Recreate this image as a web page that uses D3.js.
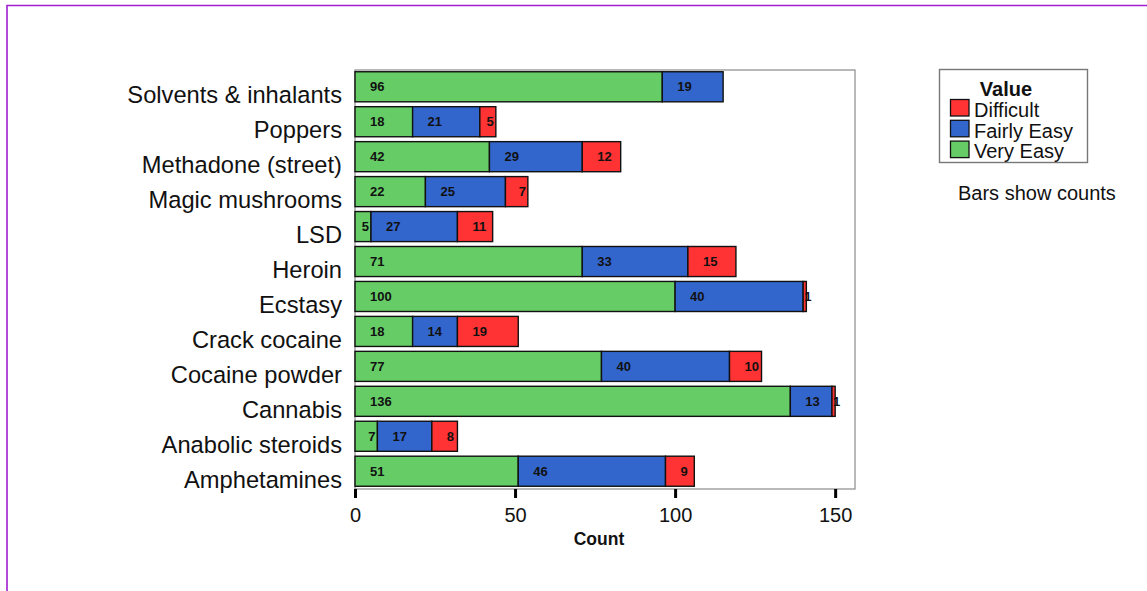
<!DOCTYPE html>
<html>
<head>
<meta charset="utf-8">
<script src="https://cdn.jsdelivr.net/npm/d3@7/dist/d3.min.js"></script>
<style>
  html, body { margin: 0; padding: 0; background: #fff; }
  svg { display: block; font-family: "Liberation Sans", Arial, Helvetica, sans-serif; }
</style>
</head>
<body>
<svg id="chart" width="1147" height="591"></svg>
<script>
// Ease of obtaining each drug: counts of responses by rating
const categories = [
  "Solvents & inhalants", "Poppers", "Methadone (street)", "Magic mushrooms",
  "LSD", "Heroin", "Ecstasy", "Crack cocaine", "Cocaine powder",
  "Cannabis", "Anabolic steroids", "Amphetamines"
];
const veryEasy   = [96, 18, 42, 22, 5, 71, 100, 18, 77, 136, 7, 51];
const fairlyEasy = [19, 21, 29, 25, 27, 33, 40, 14, 40, 13, 17, 46];
const difficult  = [0, 5, 12, 7, 11, 15, 1, 19, 10, 1, 8, 9];

const seriesNames = ["Very Easy", "Fairly Easy", "Difficult"];
const seriesValues = [veryEasy, fairlyEasy, difficult];
const seriesColors = ["#66cc66", "#3366cc", "#ff3333"];
const legendOrder = ["Difficult", "Fairly Easy", "Very Easy"];
const xTicks = [0, 50, 100, 150];

const svg = d3.select("#chart");

// page frame
svg.append("path")
  .attr("d", "M7,591 L7,5.5 L1147,5.5")
  .attr("fill", "none")
  .attr("stroke", "#a01fd0")
  .attr("stroke-width", 1.6);

const plot = { left: 355, right: 855, top: 70, bottom: 489 };

const x = d3.scaleLinear().domain([0, 156.2]).range([plot.left, plot.right]);
const y = d3.scaleBand().domain(categories).range([plot.top, plot.bottom - 1])
  .paddingInner(0.14).paddingOuter(0.05);

// plot frame
svg.append("rect")
  .attr("x", plot.left).attr("y", plot.top)
  .attr("width", plot.right - plot.left).attr("height", plot.bottom - plot.top)
  .attr("fill", "#fff").attr("stroke", "#8a8a8a").attr("stroke-width", 1.2);

// stacked rows
const rows = categories.map((c, i) => {
  let acc = 0;
  return seriesValues.map((vals, s) => {
    const seg = { cat: c, series: s, v: vals[i], x0: acc, x1: acc + vals[i] };
    acc += vals[i];
    return seg;
  });
});
const segs = rows.flat().filter(d => d.v > 0);

svg.append("g").selectAll("rect").data(segs).join("rect")
  .attr("x", d => x(d.x0))
  .attr("y", d => y(d.cat))
  .attr("width", d => x(d.x1) - x(d.x0))
  .attr("height", y.bandwidth())
  .attr("fill", d => seriesColors[d.series])
  .attr("stroke", "#111")
  .attr("stroke-width", 1.4);

// value labels near the start of each segment, pulled left when the segment is short
const labelFont = 13;
const labels = svg.append("g")
  .attr("font-size", labelFont).attr("font-weight", "bold").attr("fill", "#111");
segs.forEach(d => {
  const w = x(d.x1) - x(d.x0);
  const tw = String(d.v).length * labelFont * 0.556;
  const off = Math.max(1, Math.min(15, w - tw - 2));
  labels.append("text")
    .attr("x", x(d.x0) + off)
    .attr("y", y(d.cat) + y.bandwidth() / 2 + labelFont * 0.36)
    .text(d.v);
});

// category labels
svg.append("g").selectAll("text").data(categories).join("text")
  .attr("x", 342)
  .attr("y", d => y(d) + y.bandwidth() / 2 + 16.5)
  .attr("text-anchor", "end")
  .attr("font-size", 23.7)
  .attr("fill", "#111")
  .text(d => d);

// x axis
const xAxis = svg.append("g")
  .attr("transform", `translate(0,${plot.bottom})`)
  .call(d3.axisBottom(x).tickValues(xTicks).tickFormat(d3.format("d")).tickSize(9).tickPadding(10));
xAxis.select(".domain").remove();
xAxis.selectAll(".tick line").attr("stroke", "#000").attr("stroke-width", 3);
xAxis.selectAll(".tick text")
  .attr("font-size", 20).attr("fill", "#111")
  .attr("font-family", "'Liberation Sans', Arial, sans-serif");

svg.append("text")
  .attr("x", 599).attr("y", 545)
  .attr("text-anchor", "middle")
  .attr("font-size", 17.5).attr("font-weight", "bold").attr("fill", "#111")
  .text("Count");

// legend
const lg = svg.append("g");
lg.append("rect")
  .attr("x", 939.5).attr("y", 69.5).attr("width", 148).attr("height", 93)
  .attr("fill", "#fff").attr("stroke", "#777").attr("stroke-width", 1.4);
lg.append("text")
  .attr("x", 1006).attr("y", 96)
  .attr("text-anchor", "middle")
  .attr("font-size", 20).attr("font-weight", "bold").attr("fill", "#111")
  .text("Value");
legendOrder.forEach((name, i) => {
  const s = seriesNames.indexOf(name);
  lg.append("rect")
    .attr("x", 950.5).attr("y", 99.5 + i * 20.8)
    .attr("width", 18.5).attr("height", 16.5)
    .attr("fill", seriesColors[s]).attr("stroke", "#111").attr("stroke-width", 1.3);
  lg.append("text")
    .attr("x", 974).attr("y", 117 + i * 20.6)
    .attr("font-size", 20).attr("fill", "#111")
    .text(name);
});

svg.append("text")
  .attr("x", 958).attr("y", 199.5)
  .attr("font-size", 20).attr("fill", "#111")
  .text("Bars show counts");
</script>
</body>
</html>
